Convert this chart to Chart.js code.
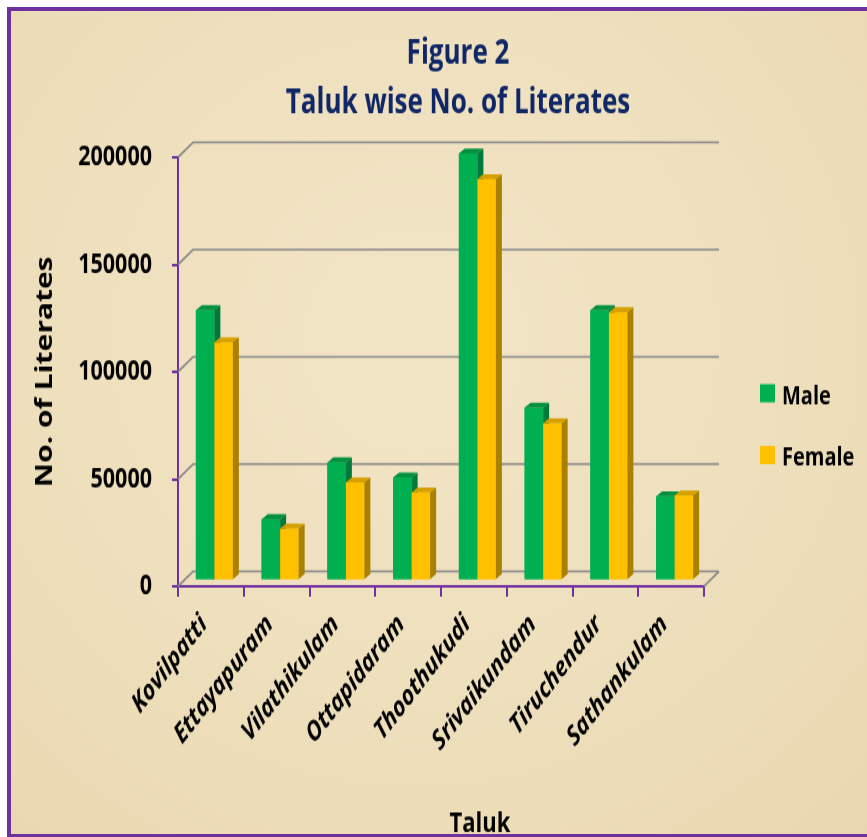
<!DOCTYPE html>
<html>
<head>
<meta charset="utf-8">
<title>Taluk wise No. of Literates</title>
<script src="https://cdn.jsdelivr.net/npm/chart.js@4.4.1/dist/chart.umd.min.js"></script>
<style>
  html, body { margin: 0; padding: 0; background: #fff; }
  body { width: 867px; height: 837px; position: relative; overflow: hidden; }
  .frame {
    position: absolute; left: 7px; top: 7px; width: 900px; height: 830px; box-sizing: border-box;
    border-top: 4px solid #7030a0; border-left: 4px solid #7030a0; border-bottom: 3px solid #7030a0;
    background: radial-gradient(ellipse at 45% 40%, #f2e5c6 0%, #eedfbc 55%, #e8d6ae 100%);
  }
  /* the original picture is stretched vertically, so draw flat and stretch */
  .stretch { position: absolute; left: 0; top: 0; width: 867px; height: 644px; transform: scaleY(1.3); transform-origin: 0 0; }
</style>
</head>
<body>
<div class="frame"></div>
<div class="stretch"><canvas id="chart" width="867" height="644"></canvas></div>
<script>
// --- data ---
const taluks = ['Kovilpatti', 'Ettayapuram', 'Vilathikulam', 'Ottapidaram', 'Thoothukudi', 'Srivaikundam', 'Tiruchendur', 'Sathankulam'];
const maleLiterates   = [126000, 28500, 55000, 48000, 199000, 80500, 126000, 39200];
const femaleLiterates = [111000, 24200, 45700, 41000, 187000, 73200, 125000, 39600];
const yTicks = [0, 50000, 100000, 150000, 200000];
const titleLines = ['Figure 2', 'Taluk wise No. of Literates'];
const xTitle = 'Taluk';
const yTitle = 'No. of Literates';

// --- look ---
const FONT = '"Open Sans", "Noto Sans", sans-serif';
const PURPLE = '#7030a0';
const NAVY = '#0f2667';
const fronts = ['#00b050', '#ffc000'];
const tops   = ['#00903f', '#d6a000'];
const sides  = ['#00793a', '#a98000'];

const WALL_DX = 15, WALL_DY = -11.5;  // back wall offset from the front axes
const BAR_DX = 3.5, BAR_DY = -4.6;    // bars stand a little behind the front axes
const DEPTH_X = 6, DEPTH_Y = -3.8;    // bar depth

const backWall = {
  id: 'backWall',
  beforeDatasetsDraw(chart) {
    const { ctx, chartArea: a, scales: { y } } = chart;
    ctx.save();
    ctx.strokeStyle = '#8a8a8a';
    ctx.lineWidth = 1.6;
    y.ticks.forEach(t => {
      const py = y.getPixelForValue(t.value);
      ctx.beginPath();
      ctx.moveTo(a.left, py);
      ctx.lineTo(a.left + WALL_DX, py + WALL_DY);
      ctx.lineTo(a.right + WALL_DX, py + WALL_DY);
      ctx.stroke();
    });
    const p0 = y.getPixelForValue(0);
    ctx.beginPath();
    ctx.moveTo(a.right, p0);
    ctx.lineTo(a.right + WALL_DX, p0 + WALL_DY);
    ctx.stroke();
    ctx.restore();
    // shift the bars back for the datasets draw
    ctx.save();
    ctx.translate(BAR_DX, BAR_DY);
  },
  afterDatasetsDraw(chart) {
    const ctx = chart.ctx;
    chart.data.datasets.forEach((ds, i) => {
      chart.getDatasetMeta(i).data.forEach(bar => {
        bar.draw(ctx); // redraw fronts in series order so faces stack right
        const { x, y, base, width } = bar.getProps(['x', 'y', 'base', 'width'], true);
        const l = x - width / 2, r = x + width / 2;
        ctx.fillStyle = tops[i];
        ctx.beginPath();
        ctx.moveTo(l, y); ctx.lineTo(l + DEPTH_X, y + DEPTH_Y);
        ctx.lineTo(r + DEPTH_X, y + DEPTH_Y); ctx.lineTo(r, y);
        ctx.closePath(); ctx.fill();
        ctx.fillStyle = sides[i];
        ctx.beginPath();
        ctx.moveTo(r, y); ctx.lineTo(r + DEPTH_X, y + DEPTH_Y);
        ctx.lineTo(r + DEPTH_X, base + DEPTH_Y); ctx.lineTo(r, base);
        ctx.closePath(); ctx.fill();
      });
    });
    ctx.restore();
  }
};

const extraText = {
  id: 'extraText',
  afterDraw(chart) {
    const ctx = chart.ctx;
    ctx.save();
    ctx.textBaseline = 'alphabetic';
    ctx.textAlign = 'center';
    ctx.fillStyle = NAVY;
    ctx.font = 'bold 26px ' + FONT;
    ctx.fillText(titleLines[0], 458, 49);
    ctx.fillText(titleLines[1], 458, 87);

    ctx.fillStyle = '#000';
    ctx.font = 'bold 22px ' + FONT;
    ctx.fillText(xTitle, 480, 640);

    // legend
    ctx.textAlign = 'left';
    ctx.font = 'bold 20px ' + FONT;
    const rows = [295.5, 343];
    chart.data.datasets.forEach((ds, i) => {
      ctx.fillStyle = ds.backgroundColor;
      ctx.fillRect(760, rows[i], 15, 14);
      ctx.fillStyle = '#000';
      ctx.fillText(ds.label, 782, rows[i] + 15);
    });
    ctx.restore();
  }
};

new Chart(document.getElementById('chart'), {
  type: 'bar',
  data: {
    labels: taluks,
    datasets: [
      { label: 'Male', data: maleLiterates, backgroundColor: fronts[0] },
      { label: 'Female', data: femaleLiterates, backgroundColor: fronts[1] }
    ]
  },
  options: {
    responsive: false,
    animation: false,
    devicePixelRatio: 1,
    layout: { padding: { top: 121, right: 163, left: 0, bottom: 0 } },
    datasets: { bar: { categoryPercentage: 0.563, barPercentage: 1.0 } },
    plugins: { legend: { display: false }, title: { display: false }, tooltip: { enabled: false } },
    scales: {
      x: {
        grid: { drawOnChartArea: false, color: PURPLE, lineWidth: 2, tickLength: 8 },
        border: { color: PURPLE, width: 2 },
        ticks: {
          color: '#000', autoSkip: false, minRotation: 45, maxRotation: 45, padding: 9, labelOffset: -7,
          font: { family: FONT, size: 21, weight: 'bold', style: 'italic' }
        },
        afterFit(s) { s.height = 193; }
      },
      y: {
        min: 0, max: 200000,
        afterBuildTicks(s) { s.ticks = yTicks.map(v => ({ value: v })); },
        grid: { drawOnChartArea: false, color: PURPLE, lineWidth: 2, tickLength: 6 },
        border: { color: PURPLE, width: 2 },
        ticks: {
          color: '#000', padding: 20,
          font: { family: FONT, size: 21.5, weight: 'bold' },
          callback: v => String(v)
        },
        title: {
          display: true, text: yTitle, color: '#000',
          font: { family: FONT, size: 23, weight: 'bold' },
          padding: { top: 32, bottom: 0 }
        },
        afterFit(s) { s.width = 178; }
      }
    }
  },
  plugins: [backWall, extraText]
});
</script>
</body>
</html>
